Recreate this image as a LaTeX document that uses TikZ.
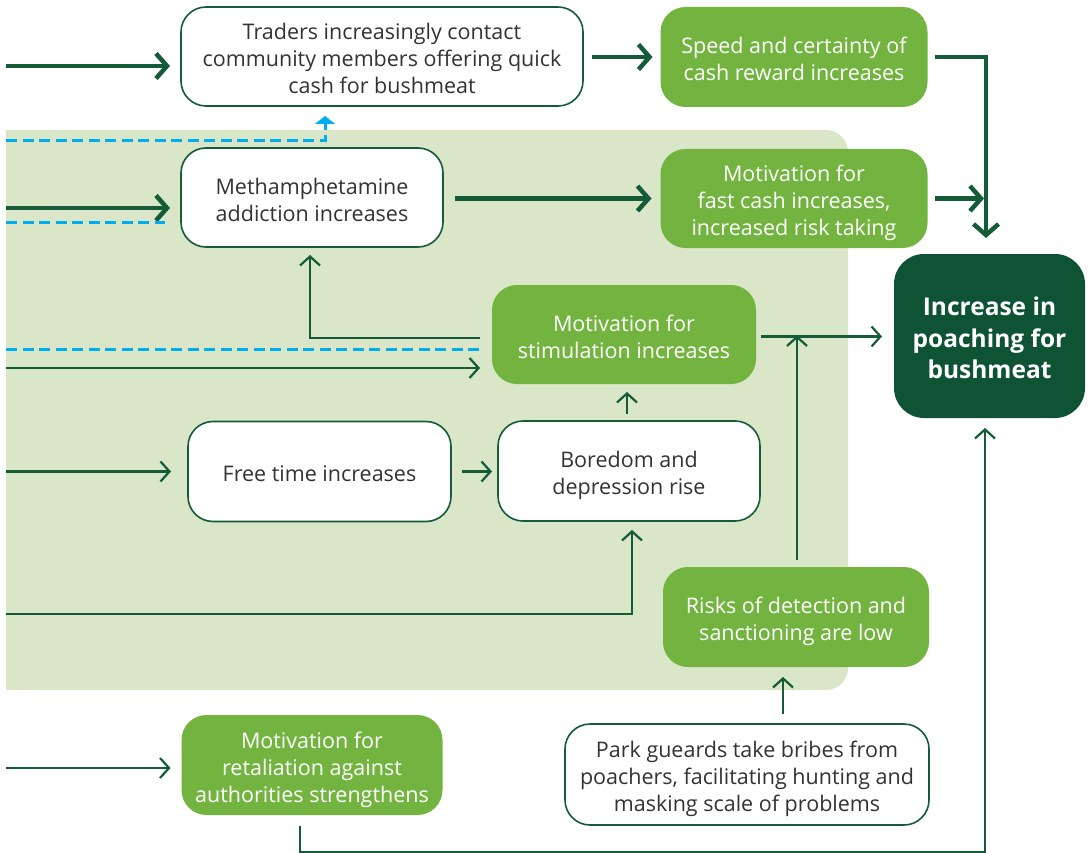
\documentclass[tikz,border=0pt]{standalone}
\usepackage{fontspec}
\setmainfont{Open Sans}
\usetikzlibrary{arrows.meta}
\definecolor{lineg}{HTML}{145C38}
\definecolor{darkg}{HTML}{0E5334}
\definecolor{midg}{HTML}{72B43F}
\definecolor{panelg}{HTML}{D9E6C8}
\definecolor{blued}{HTML}{00AEEF}
\definecolor{txtg}{HTML}{333333}
\newcommand\lbl[1]{\raisebox{-5pt}[\height][\depth]{\begin{tabular}{@{}c@{}}#1\end{tabular}}}
\tikzset{
  base/.style={rectangle, rounded corners=25pt, align=center, inner sep=0pt, outer sep=0pt,
    font={\fontsize{21.5}{27}\selectfont}},
  wbox/.style={base, draw=lineg, line width=1.6pt, fill=white, text=txtg},
  gbox/.style={base, fill=midg, text=white},
  dbox/.style={base, fill=darkg, text=white, rounded corners=30pt,
    font={\fontsize{24.5}{31.5}\selectfont\bfseries}},
  thickarrow/.style={draw=lineg, line width=4.5pt, -{Straight Barb[length=11pt,width=25pt]}},
  thinarrow/.style={draw=lineg, line width=2.2pt, -{Straight Barb[length=9pt,width=20pt]}},
  bluedash/.style={draw=blued, line width=3pt, dash pattern=on 11pt off 5.5pt},
}
\begin{document}
\begin{tikzpicture}[x=1pt,y=-1pt]
\useasboundingbox (0,0) rectangle (1089,853);
% background panel
\fill[panelg, rounded corners=22pt] (6,130) rectangle (848,690);
\fill[panelg] (6,130) rectangle (100,690);

% nodes
\node[wbox, minimum width=402pt, minimum height=99pt] (Traders) at (382,56.5)
  {\lbl{Traders increasingly contact\\community members offering quick\\cash for bushmeat}};
\node[gbox, minimum width=267pt, minimum height=100pt] (Speed) at (794,57)
  {\lbl{Speed and certainty of\\cash reward increases}};
\node[wbox, minimum width=262pt, minimum height=99pt] (Meth) at (312,197.5)
  {\lbl{Methamphetamine\\addiction increases}};
\node[gbox, minimum width=267pt, minimum height=99pt] (Fast) at (794,198.5)
  {\lbl{Motivation for\\fast cash increases,\\increased risk taking}};
\node[dbox, minimum width=191pt, minimum height=164pt] (Inc) at (989.5,336)
  {\lbl{Increase in\\poaching for\\bushmeat}};
\node[gbox, minimum width=264pt, minimum height=99pt] (Stim) at (624,334.5)
  {\lbl{Motivation for\\stimulation increases}};
\node[wbox, minimum width=263pt, minimum height=100pt] (Free) at (319.5,471.5)
  {\lbl{Free time increases}};
\node[wbox, minimum width=262pt, minimum height=100pt] (Bored) at (629,471)
  {\lbl{Boredom and\\depression rise}};
\node[gbox, minimum width=266pt, minimum height=100pt] (Risks) at (796,617)
  {\lbl{Risks of detection and\\sanctioning are low}};
\node[gbox, minimum width=261pt, minimum height=100pt] (Retal) at (312,765)
  {\lbl{Motivation for\\retaliation against\\authorities strengthens}};
\node[wbox, minimum width=364pt, minimum height=101pt] (Park) at (747,774.5)
  {\lbl{Park gueards take bribes from\\poachers, facilitating hunting and\\masking scale of problems}};

% free-end coordinates
\coordinate (inTr) at (6,66);
\coordinate (inMe) at (6,208);
\coordinate (blTr) at (6,141);
\coordinate (blMe) at (6,222);
\coordinate (blSt) at (6,349);
\coordinate (inSt) at (6,368);
\coordinate (inFr) at (6,471.5);
\coordinate (inBo) at (6,614);
\coordinate (inRe) at (6,768);
\coordinate (fastEnd) at (984,198.5);

% thick connectors
\draw[thickarrow, shorten >=11pt] (inTr) -- (Traders.west |- inTr);
\draw[thickarrow, shorten <=9pt, shorten >=8pt] (Traders.east |- Speed.west) -- (Speed.west);
\draw[thickarrow, shorten <=7pt, shorten >=16pt] (Speed.east) -| ([xshift=-3.5pt]Inc.north);
\draw[thickarrow, shorten >=11pt] (inMe) -- (Meth.west |- inMe);
\draw[thickarrow, shorten <=12pt, shorten >=9pt] (Meth.east |- Fast.west) -- (Fast.west);
\draw[thickarrow, shorten <=7pt] (Fast.east) -- (fastEnd);

% blue dashed
\draw[bluedash, -{Triangle[length=8pt,width=20pt]}, shorten >=10pt] (blTr) -| ([xshift=-57pt]Traders.south);
\draw[bluedash, shorten >=16pt] (blMe) -- (Meth.west |- blMe);
\draw[bluedash, shorten >=12pt] (blSt) -- (Stim.west |- blSt);

% thin connectors
\draw[thinarrow, shorten <=12pt, shorten >=8pt] ([yshift=-3.5pt]Stim.west) -| ([xshift=-2pt]Meth.south);
\draw[thinarrow, shorten >=12pt] (inSt) -- (Stim.west |- inSt);
\draw[thinarrow, shorten <=5pt, shorten >=12pt] ([yshift=-2pt]Stim.east) -- ([yshift=-2pt]Stim.east -| Inc.west);
\draw[thinarrow, shorten <=7pt, shorten >=-1pt] ([xshift=1pt]Risks.north) -- ([xshift=1pt,yshift=-2pt]Risks.north |- Stim.east);
\draw[thinarrow, shorten <=7pt, shorten >=8pt] ([xshift=-2pt]Bored.north) -- ([xshift=-2pt]Bored.north |- Stim.south);
\draw[thinarrow, shorten >=17pt] (inFr) -- (Free.west |- inFr);
\draw[thinarrow, shorten <=11pt, shorten >=6pt] (Free.east) -- (Bored.west |- Free.east);
\draw[thinarrow, shorten >=9pt] (inBo) -| ([xshift=3pt]Bored.south);
\draw[thinarrow, shorten <=10pt, shorten >=10pt] ([xshift=36pt]Park.north) -- ([xshift=36pt]Park.north |- Risks.south);
\draw[thinarrow, shorten >=11pt] (inRe) -- (Retal.west |- inRe);
\draw[thinarrow, shorten <=11pt, shorten >=10pt] ([xshift=-12pt]Retal.south) -- ++(0,37) -| ([xshift=-4.5pt]Inc.south);
\end{tikzpicture}
\end{document}
